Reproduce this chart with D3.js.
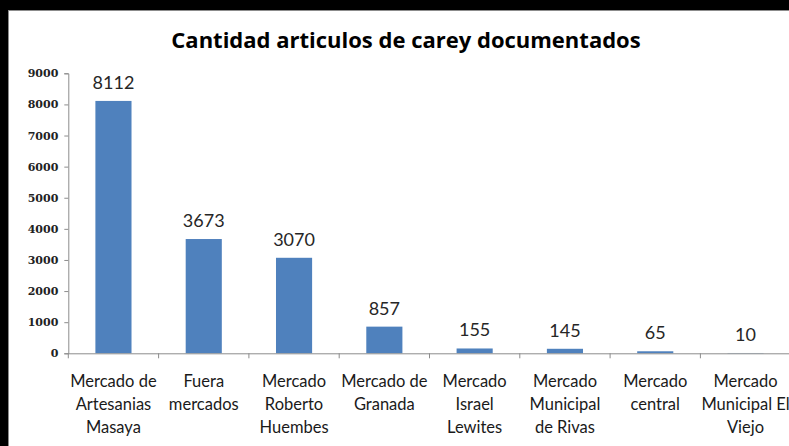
<!DOCTYPE html>
<html>
<head>
<meta charset="utf-8">
<script src="https://cdn.jsdelivr.net/npm/d3@7"></script>
<style>
  body { margin:0; background:#000; }
  svg { display:block; }
</style>
</head>
<body>
<svg class="chart" width="789" height="446"></svg>
<script>
// datos
var categorias = [
  ["Mercado de","Artesanias","Masaya"],
  ["Fuera","mercados"],
  ["Mercado","Roberto","Huembes"],
  ["Mercado de","Granada"],
  ["Mercado","Israel","Lewites"],
  ["Mercado","Municipal","de Rivas"],
  ["Mercado","central"],
  ["Mercado","Municipal El","Viejo"]
];
var valores = [8112, 3673, 3070, 857, 155, 145, 65, 10];
var yTicks = [0,1000,2000,3000,4000,5000,6000,7000,8000,9000];
var titulo = "Cantidad articulos de carey documentados";

var nombres = categorias.map(c => c.join(" "));

var canvas = d3.select(".chart");

// fondo blanco con borde gris (cortado a la derecha)
canvas.append("rect")
  .attr("x",8.5).attr("y",10.5)
  .attr("width",800).attr("height",460)
  .attr("fill","#fff")
  .attr("stroke","#8c8c8c");

var x = d3.scaleBand()
  .domain(nombres)
  .range([68.3, 790.7])
  .paddingInner(0.6)
  .paddingOuter(0.3);

var y = d3.scaleLinear()
  .domain([0,9000])
  .range([353.3, 73.3]);

canvas.append("text")
  .attr("x",406).attr("y",48)
  .attr("text-anchor","middle")
  .style("font-family","'Open Sans', sans-serif")
  .style("font-weight","bold")
  .style("font-size","22px")
  .attr("fill","#000")
  .text(titulo);

// eje Y
var yAxis = canvas.append("g")
  .attr("transform","translate(68.3,0)")
  .call(d3.axisLeft(y).tickValues(yTicks).tickFormat(d3.format("d")).tickSize(4).tickPadding(6));
yAxis.select(".domain").attr("stroke","#8c8c8c");
yAxis.selectAll(".tick line").attr("stroke","#8c8c8c");
yAxis.selectAll(".tick text")
  .style("font-family","'DejaVu Serif', serif")
  .style("font-weight","bold")
  .style("font-size","11px")
  .attr("fill","#222");

// barras
canvas.selectAll("rect.bar")
  .data(valores)
  .enter()
    .append("rect")
      .attr("class","bar")
      .attr("x",(d,i)=>x(nombres[i]))
      .attr("y",d=>y(d))
      .attr("width",x.bandwidth())
      .attr("height",d=>y(0)-y(d))
      .attr("fill","#4f81bd");

// etiquetas de valor
canvas.selectAll("text.val")
  .data(valores)
  .enter()
    .append("text")
      .attr("class","val")
      .attr("x",(d,i)=>x(nombres[i])+x.bandwidth()/2)
      .attr("y",d=>y(d)-12)
      .attr("text-anchor","middle")
      .style("font-family","Lato, sans-serif")
      .style("font-size","18px")
      .attr("fill","#262626")
      .text(d=>d);

// eje X
var xAxis = canvas.append("g")
  .attr("transform","translate(0,"+y(0)+")")
  .call(d3.axisBottom(x).tickSize(0).tickFormat(""));
xAxis.select(".domain").attr("stroke","#8c8c8c");

var bordes = d3.range(nombres.length+1).map(i=>x.range()[0]+i*x.step());
xAxis.selectAll("line.sep")
  .data(bordes)
  .enter()
    .append("line")
      .attr("class","sep")
      .attr("x1",d=>d).attr("x2",d=>d)
      .attr("y1",0).attr("y2",5)
      .attr("stroke","#8c8c8c");

var etiquetas = canvas.selectAll("text.cat")
  .data(categorias)
  .enter()
    .append("text")
      .attr("class","cat")
      .attr("text-anchor","middle")
      .style("font-family","Lato, sans-serif")
      .style("font-size","16.5px")
      .attr("fill","#1a1a1a");
etiquetas.selectAll("tspan")
  .data((d,i)=>d.map(t=>({t:t, cx:x(nombres[i])+x.bandwidth()/2})))
  .enter()
    .append("tspan")
      .attr("x",d=>d.cx)
      .attr("y",(d,j)=>387+j*23)
      .text(d=>d.t);
</script>
</body>
</html>
